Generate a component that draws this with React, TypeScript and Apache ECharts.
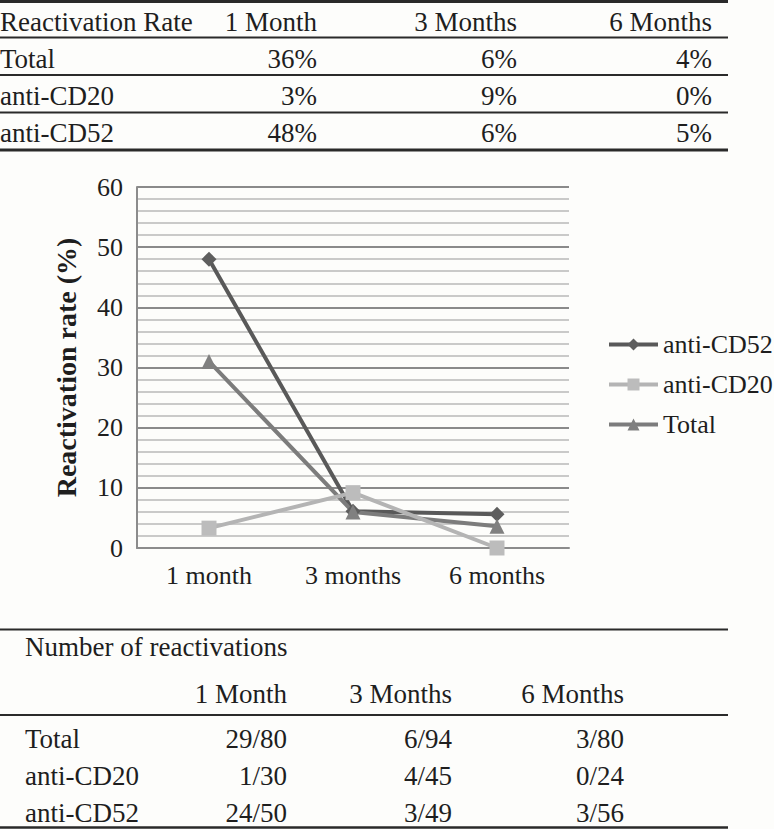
import React, { useEffect, useRef } from "react";
import * as echarts from "echarts";

// Chart data
const categories = ["1 month", "3 months", "6 months"];
const antiCD52 = [48, 6.1, 5.6];
const antiCD20 = [3.3, 9.2, 0];
const total = [31, 6, 3.6];

// Top table (reactivation rate)
const rateHeader = ["Reactivation Rate", "1 Month", "3 Months", "6 Months"];
const rowLabels = ["Total", "anti-CD20", "anti-CD52"];
const rateTotal = ["36%", "6%", "4%"];
const rateCD20 = ["3%", "9%", "0%"];
const rateCD52 = ["48%", "6%", "5%"];

// Bottom table (number of reactivations)
const countTitle = "Number of reactivations";
const countHeader = ["1 Month", "3 Months", "6 Months"];
const countTotal = ["29/80", "6/94", "3/80"];
const countCD20 = ["1/30", "4/45", "0/24"];
const countCD52 = ["24/50", "3/49", "3/56"];

const FONT = "Liberation Serif";
const INK = "#1e1e1e";
const RULE = "#2a2a2a";

function txt(text: string, x: number, y: number, align: string, size = 27) {
  return {
    type: "text",
    x,
    y,
    silent: true,
    style: {
      text,
      fill: INK,
      fontSize: size,
      fontFamily: FONT,
      align,
      textAlign: align,
      verticalAlign: "middle",
      textVerticalAlign: "middle",
    },
  };
}

function rule(y: number, w: number, x1 = 0, x2 = 728) {
  return {
    type: "line",
    silent: true,
    shape: { x1, y1: y, x2, y2: y },
    style: { stroke: RULE, lineWidth: w },
  };
}

export default function App() {
  const ref = useRef<HTMLDivElement>(null);

  useEffect(() => {
    if (!ref.current) return;
    const chart = echarts.init(ref.current, undefined, { renderer: "svg" });

    const graphics: any[] = [];
    // top table
    const topCols = [317, 517, 712];
    const topRows = [58.5, 95.5, 132.5];
    graphics.push(rule(1.5, 3));
    graphics.push(txt(rateHeader[0], 0, 22, "left"));
    rateHeader.slice(1).forEach((h, i) => graphics.push(txt(h, topCols[i], 22, "right")));
    graphics.push(rule(37.5, 2));
    const rateRows = [rateTotal, rateCD20, rateCD52];
    rateRows.forEach((row, r) => {
      graphics.push(txt(rowLabels[r], 0, topRows[r], "left"));
      row.forEach((v, i) => graphics.push(txt(v, topCols[i], topRows[r], "right")));
    });
    graphics.push(rule(75, 2));
    graphics.push(rule(112.5, 2));
    graphics.push(rule(150, 3));

    // bottom table
    const botCols = [287, 452, 624];
    const botRows = [738.5, 775.5, 812.5];
    graphics.push(rule(629.5, 2));
    graphics.push(txt(countTitle, 25, 647, "left"));
    countHeader.forEach((h, i) => graphics.push(txt(h, botCols[i], 693.5, "right")));
    graphics.push(rule(715, 2));
    const countRows = [countTotal, countCD20, countCD52];
    countRows.forEach((row, r) => {
      graphics.push(txt(rowLabels[r], 25, botRows[r], "left"));
      row.forEach((v, i) => graphics.push(txt(v, botCols[i], botRows[r], "right")));
    });
    graphics.push(rule(827.5, 2.5));

    const option: any = {
      animation: false,
      backgroundColor: "#fdfdfb",
      textStyle: { fontFamily: FONT, color: INK },
      grid: { left: 137, top: 187, width: 432, height: 361, containLabel: false },
      legend: {
        orient: "vertical",
        left: 602,
        top: 326,
        itemWidth: 49,
        itemHeight: 15,
        itemGap: 13,
        lineStyle: { width: 4 },
        textStyle: { fontSize: 26, fontFamily: FONT, color: INK, lineHeight: 27 },
        data: ["anti-CD52", "anti-CD20", "Total"],
      },
      xAxis: {
        type: "category",
        data: categories,
        boundaryGap: true,
        axisLine: { show: true, lineStyle: { color: "#8c8c8c", width: 2 } },
        axisTick: { show: false },
        axisLabel: { fontSize: 26, fontFamily: FONT, color: INK, margin: 14 },
      },
      yAxis: {
        type: "value",
        min: 0,
        max: 60,
        interval: 10,
        name: "Reactivation rate (%)",
        nameLocation: "middle",
        nameRotate: 90,
        nameGap: 57,
        nameTextStyle: { fontSize: 28, fontWeight: "bold", fontFamily: FONT, color: INK },
        axisLine: { show: true, lineStyle: { color: "#8c8c8c", width: 2 } },
        axisTick: { show: false },
        axisLabel: { fontSize: 26, fontFamily: FONT, color: INK, margin: 14 },
        splitLine: { show: true, lineStyle: { color: "#8a8a8a", width: 2 } },
        minorTick: { show: false, splitNumber: 5 },
        minorSplitLine: { show: true, lineStyle: { color: "#b8b8b8", width: 1.5 } },
      },
      series: [
        {
          name: "anti-CD52",
          type: "line",
          data: antiCD52,
          symbol: "diamond",
          symbolSize: 15,
          z: 3,
          lineStyle: { color: "#595959", width: 4 },
          itemStyle: { color: "#5e5e5e" },
        },
        {
          name: "anti-CD20",
          type: "line",
          data: antiCD20,
          symbol: "rect",
          symbolSize: 15,
          z: 4,
          lineStyle: { color: "#b4b4b4", width: 4 },
          itemStyle: { color: "#bcbcbc" },
        },
        {
          name: "Total",
          type: "line",
          data: total,
          symbol: "triangle",
          symbolSize: 15,
          z: 3,
          lineStyle: { color: "#7c7c7c", width: 4 },
          itemStyle: { color: "#808080" },
        },
      ],
      graphic: graphics,
    };

    chart.setOption(option);
    return () => chart.dispose();
  }, []);

  return (
    <div
      ref={ref}
      style={{ position: "absolute", left: 0, top: 0, width: 774, height: 829 }}
    />
  );
}
